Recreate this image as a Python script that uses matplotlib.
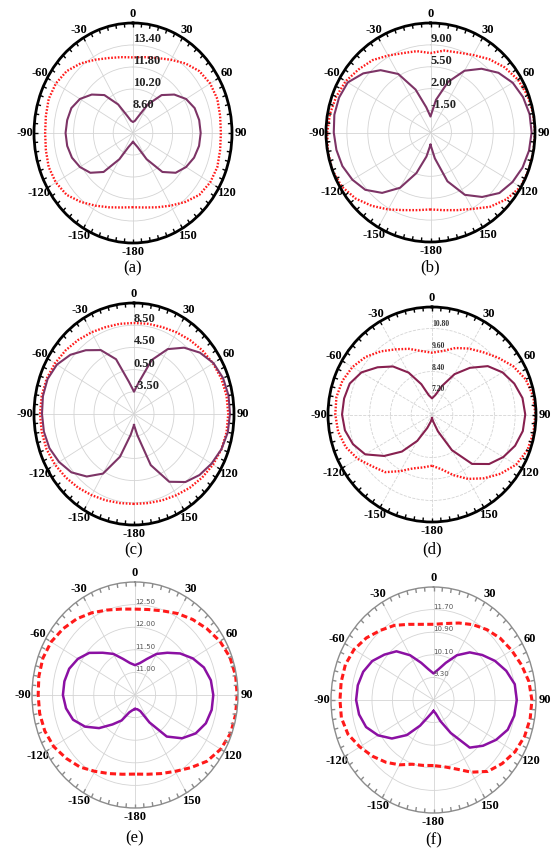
import numpy as np
import matplotlib
matplotlib.use("Agg")
import matplotlib.pyplot as plt

# angles of the samples, degrees (0 at top, clockwise)
angles = list(range(-180, 181, 10))
tick_angles = [0, 30, 60, 90, 120, 150, 180, -150, -120, -90, -60, -30]
tick_labels = ["0", "30", "60", "90", "120", "150", "-180", "-150", "-120", "-90", "-60", "-30"]

# (a)
a_rings = [8.6, 10.2, 11.8, 13.4]
a_rlim = (7.0, 15.0)
a_red = [12.4, 12.5, 12.75, 13.1, 13.55, 14.0, 14.2, 14.25, 14.15, 14.1, 14.15, 14.25,
         14.2, 14.0, 13.6, 13.15, 12.8, 12.6, 12.5, 12.6, 12.8, 13.15, 13.6, 14.0,
         14.2, 14.25, 14.15, 14.1, 14.15, 14.25, 14.2, 14.0, 13.55, 13.1, 12.75, 12.5, 12.4]
a_purple = [7.65, 7.8, 8.1, 9.2, 10.7, 11.5, 11.95, 12.25, 12.4, 12.45, 12.4, 12.3,
            11.95, 11.35, 10.6, 9.4, 8.3, 7.9, 7.8, 7.9, 8.3, 9.4, 10.6, 11.35,
            11.95, 12.3, 12.43, 12.47, 12.42, 12.25, 11.95, 11.5, 10.7, 9.2, 8.1, 7.8, 7.65]

# (b)
b_rings = [-1.5, 2.0, 5.5, 9.0]
b_rlim = (-5.0, 12.5)
b_red = [7.3, 7.6, 8.2, 9.2, 10.3, 11.4, 12.2, 12.5, 12.45, 12.3, 12.1, 11.8,
         11.4, 10.7, 10.1, 9.2, 8.5, 8.2, 7.7, 8.3, 8.6, 9.3, 10.3, 11.2,
         11.9, 12.3, 12.45, 12.5, 12.5, 12.5, 12.4, 11.6, 10.5, 9.1, 8.2, 7.6, 7.3]
b_purple = [-3.04, -1.1, 1.9, 5.2, 7.6, 9.25, 10.1, 10.7, 11.0, 11.2, 11.35, 11.3,
            11.0, 9.7, 8.0, 5.8, 2.3, -0.9, -2.45, 0.3, 3.6, 6.4, 8.3, 9.85,
            10.9, 11.5, 11.85, 11.93, 11.75, 11.4, 10.85, 10.05, 8.45, 6.5, 3.3, -0.8, -3.04]

# (c)
c_rings = [-3.5, 0.5, 4.5, 8.5]
c_rlim = (-7.5, 12.5)
c_red = [8.7, 8.8, 9.05, 9.4, 9.85, 10.3, 10.75, 11.1, 11.25, 11.3, 11.25, 11.1,
         10.75, 10.35, 9.9, 9.5, 9.15, 9.0, 8.9, 9.0, 9.15, 9.5, 9.9, 10.35,
         10.75, 11.1, 11.3, 11.35, 11.3, 11.1, 10.75, 10.3, 9.85, 9.4, 9.05, 8.8, 8.7]
c_purple = [-5.52, -3.7, 0.7, 4.9, 7.2, 8.85, 9.8, 10.5, 10.8, 10.9, 11.0, 10.9,
            10.3, 9.1, 7.5, 5.8, 3.0, -1.6, -3.48, -1.6, 2.85, 6.0, 8.1, 9.7,
            10.85, 11.45, 11.7, 11.7, 11.55, 11.1, 10.4, 9.6, 8.5, 6.6, 2.3, -3.6, -5.52]

# (d)
d_rings = [7.2, 8.4, 9.6, 10.8]
d_rlim = (6.0, 12.0)
d_red = [8.86, 9.0, 9.2, 9.65, 10.2, 10.5, 10.95, 11.3, 11.5, 11.58, 11.6, 11.5,
         11.3, 11.0, 10.6, 10.2, 9.9, 9.6, 9.45, 9.6, 9.95, 10.25, 10.55, 10.95,
         11.4, 11.75, 11.93, 11.96, 11.94, 11.85, 11.6, 11.15, 10.65, 10.15, 9.6, 9.1, 8.86]
d_purple = [6.2, 6.4, 6.8, 7.7, 8.7, 9.6, 10.45, 10.85, 11.1, 11.19, 11.15, 11.05,
            10.7, 10.1, 9.5, 8.7, 7.8, 7.1, 6.9, 7.1, 7.7, 8.6, 9.4, 10.2,
            10.7, 11.05, 11.3, 11.38, 11.32, 11.1, 10.75, 10.3, 9.6, 8.3, 7.0, 6.4, 6.2]

# (e)
e_rings = [11.0, 11.5, 12.0, 12.5]
e_rlim = (10.5, 13.0)
e_red = [12.25, 12.28, 12.35, 12.45, 12.58, 12.68, 12.78, 12.83, 12.85, 12.85, 12.87, 12.88,
         12.85, 12.78, 12.7, 12.6, 12.5, 12.43, 12.4, 12.42, 12.48, 12.58, 12.68, 12.78,
         12.88, 12.95, 12.98, 12.98, 12.98, 12.97, 12.9, 12.78, 12.6, 12.45, 12.35, 12.28, 12.25]
e_purple = [10.81, 10.84, 10.91, 11.15, 11.35, 11.64, 11.9, 12.1, 12.2, 12.25, 12.24, 12.2,
            12.1, 11.95, 11.72, 11.55, 11.35, 11.22, 11.16, 11.22, 11.35, 11.55, 11.72, 11.93,
            12.12, 12.28, 12.37, 12.4, 12.39, 12.33, 12.2, 11.99, 11.7, 11.2, 10.88, 10.82, 10.81]

# (f)
f_rings = [9.3, 10.1, 10.9, 11.7]
f_rlim = (8.5, 12.5)
f_red = [10.82, 10.85, 10.92, 11.15, 11.38, 11.6, 11.82, 12.05, 12.15, 12.15, 12.16, 12.16,
         12.08, 11.92, 11.72, 11.55, 11.35, 11.22, 11.18, 11.25, 11.4, 11.58, 11.75, 11.9,
         12.02, 12.15, 12.28, 12.34, 12.33, 12.28, 12.17, 12.0, 11.8, 11.45, 11.1, 10.9, 10.82]
f_purple = [8.89, 8.98, 9.15, 9.55, 10.12, 10.62, 11.0, 11.3, 11.45, 11.52, 11.5, 11.42,
            11.26, 11.0, 10.75, 10.33, 9.9, 9.6, 9.44, 9.6, 9.9, 10.33, 10.7, 10.98,
            11.27, 11.52, 11.72, 11.75, 11.7, 11.58, 11.32, 11.02, 10.7, 9.85, 9.3, 8.98, 8.89]

W, H = 556, 848
SERIF = ["Liberation Serif", "DejaVu Serif"]


def box(l, r, t, b):
    return [l / W, 1 - b / H, (r - l) / W, (b - t) / H]


panels = [
    ("(a)", box(34, 232, 23, 243), a_rings, a_rlim, a_red, a_purple, "old"),
    ("(b)", box(326, 535, 23, 242), b_rings, b_rlim, b_red, b_purple, "old"),
    ("(c)", box(34, 234, 303, 525), c_rings, c_rlim, c_red, c_purple, "old"),
    ("(d)", box(328, 536, 307, 522), d_rings, d_rlim, d_red, d_purple, "d"),
    ("(e)", box(32, 238, 582, 808), e_rings, e_rlim, e_red, e_purple, "new"),
    ("(f)", box(331, 536, 587, 813), f_rings, f_rlim, f_red, f_purple, "new"),
]
caption_y = {"(a)": 268, "(b)": 267, "(c)": 550, "(d)": 549, "(e)": 838, "(f)": 840}

fig = plt.figure(figsize=(W / 100, H / 100), dpi=100)

for name, rect, rings, rlim, red, purple, style in panels:
    ax = fig.add_axes(rect, projection="polar")
    ax.set_aspect("auto")
    ax.set_theta_zero_location("N")
    ax.set_theta_direction(-1)
    th = np.deg2rad(angles)

    if style == "new":
        ax.plot(th, red, color="#ff1a1a", lw=2.2, linestyle=(0, (2.0, 1.1)))
        ax.plot(th, purple, color="#8b10a3", lw=1.8)
        edge = "#8c8c8c"
        spine_w = 1.0
    else:
        ax.plot(th, red, color="#ff1a1a", lw=1.7, linestyle=(0, (0.7, 0.7)))
        ax.plot(th, purple, color="#7d3466" if style == "old" else "#87204f", lw=1.5)
        edge = "black"
        spine_w = 2.0

    ax.spines["polar"].set_linewidth(spine_w)
    ax.spines["polar"].set_color(edge)

    # 5 degree ticks pointing inward from the outer circle
    ax.vlines(np.deg2rad(np.arange(0, 360, 5)), 0.962, 1.0,
              transform=ax.get_xaxis_transform(), colors=edge, lw=1.0)

    ax.set_xticks(np.deg2rad([t % 360 for t in tick_angles]))
    ax.set_xticklabels(tick_labels, fontsize=9, fontweight="bold", family=SERIF)
    ax.tick_params(axis="x", which="both", length=0, pad=-0.5)
    ax.set_xlim(0, 2 * np.pi)

    ax.set_yticks(rings)
    ax.set_yticklabels([])
    ax.set_ylim(*rlim)
    ls = "--" if style == "d" else "-"
    ax.grid(True, color="#d4d4d4", lw=0.6, linestyle=ls)

    for rv in rings:
        label = f"{rv:.2f}"
        if style == "old":
            ax.text(0, rv, label, ha="left", va="bottom", fontsize=9,
                    fontweight="bold", family=SERIF, color="#222222")
        elif style == "d":
            ax.text(0, rv, label, ha="left", va="bottom", fontsize=5.5,
                    fontweight="bold", family=SERIF, color="#333333")
        else:
            ax.text(0, rv, label, ha="left", va="bottom", fontsize=5,
                    family="DejaVu Sans", color="#555555")

    cx = (rect[0] + rect[2] / 2)
    fig.text(cx, 1 - caption_y[name] / H, name, ha="center", va="center",
             fontsize=12, family=SERIF)

fig.savefig("out.png", dpi=100)
